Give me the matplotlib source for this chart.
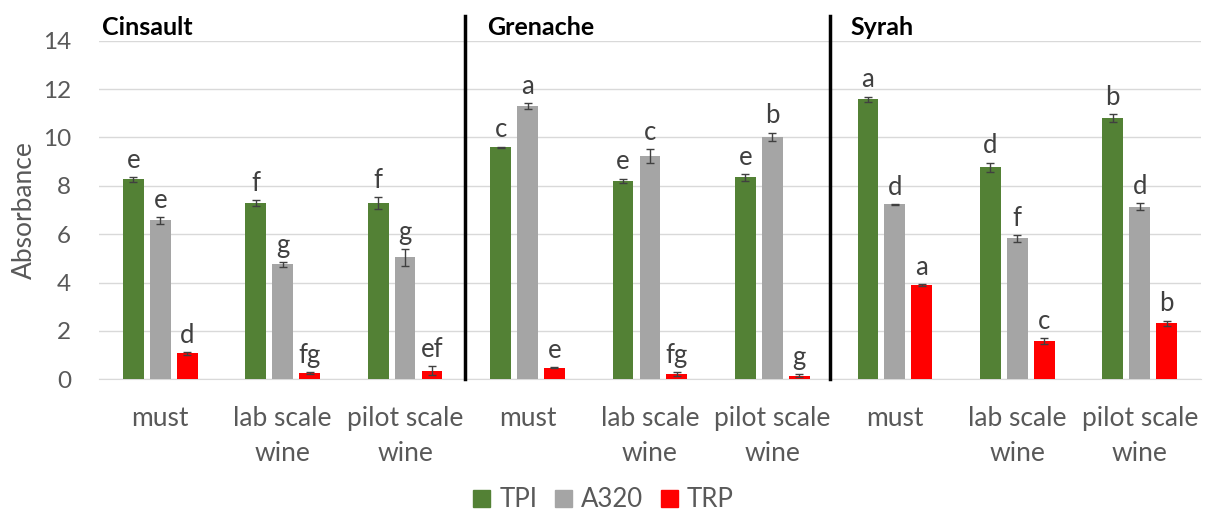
import numpy as np
import matplotlib.pyplot as plt
from matplotlib.patches import Patch

# samples, three per cultivar
cultivars = ["Cinsault", "Grenache", "Syrah"]
samples = ["must", "lab scale\nwine", "pilot scale\nwine"] * 3

tpi = [8.27, 7.30, 7.30, 9.59, 8.20, 8.35, 11.57, 8.76, 10.80]
tpi_err = [0.10, 0.12, 0.25, 0.03, 0.10, 0.15, 0.12, 0.20, 0.15]
a320 = [6.57, 4.75, 5.04, 11.30, 9.23, 10.03, 7.23, 5.83, 7.14]
a320_err = [0.15, 0.10, 0.35, 0.12, 0.30, 0.17, 0.03, 0.15, 0.14]
trp = [1.07, 0.27, 0.36, 0.47, 0.22, 0.15, 3.89, 1.60, 2.31]
trp_err = [0.05, 0.04, 0.18, 0.02, 0.09, 0.05, 0.04, 0.12, 0.12]

tpi_sig = ["e", "f", "f", "c", "e", "e", "a", "d", "b"]
a320_sig = ["e", "g", "g", "a", "c", "b", "d", "f", "d"]
trp_sig = ["d", "fg", "ef", "e", "fg", "g", "a", "c", "b"]

plt.rcParams["font.family"] = ["Lato", "DejaVu Sans"]
grey_txt = "#595959"

fig = plt.figure(figsize=(12.07, 5.11), dpi=100)
ax = fig.add_axes([0.082, 0.2577, 0.913, 0.6627])

x = np.arange(len(samples))
w = 0.17
step = 0.22
series = [
    (tpi, tpi_err, tpi_sig, "#538135", "TPI", -step),
    (a320, a320_err, a320_sig, "#A5A5A5", "A320", 0.0),
    (trp, trp_err, trp_sig, "#FF0000", "TRP", step),
]
for vals, errs, sig, col, name, off in series:
    ax.bar(x + off, vals, w, color=col, zorder=3, label=name)
    ax.errorbar(x + off, vals, yerr=errs, fmt="none", ecolor="#404040",
                elinewidth=1, capsize=3, capthick=1, zorder=4)
    for xi, v, e, s in zip(x + off, vals, errs, sig):
        ax.annotate(s, (xi, v + e), xytext=(0, 3), textcoords="offset points",
                    ha="center", va="bottom", fontsize=18.5, color="#404040")

ax.set_xlim(-0.5, 8.5)
ax.set_ylim(0, 14)
ax.set_yticks(range(0, 15, 2))
ax.yaxis.grid(True, color="#D9D9D9", linewidth=1, zorder=0)
ax.set_axisbelow(True)
for sp in ["top", "right", "left"]:
    ax.spines[sp].set_visible(False)
ax.spines["bottom"].set_color("#D9D9D9")
ax.tick_params(axis="y", length=0, labelsize=17.5, colors=grey_txt, pad=20)
ax.tick_params(axis="x", length=0, labelsize=19, colors=grey_txt, pad=19)
ax.set_xticks(x)
ax.set_xticklabels(samples, linespacing=1.5)
ax.set_ylabel("Absorbance", fontsize=19, color=grey_txt, labelpad=4)

# cultivar separators and headings
for xs in [2.49, 5.47]:
    ax.plot([xs, xs], [0, 15.0], color="black", linewidth=2.5,
            clip_on=False, zorder=5)
for xt, name in zip([-0.475, 2.67, 5.64], cultivars):
    ax.text(xt, 14.55, name, fontsize=18, fontweight="bold",
            ha="left", va="center", color="black")

handles = [Patch(color=c, label=n) for _, _, _, c, n, _ in series]
fig.legend(handles=handles, loc="center", bbox_to_anchor=(0.5, 0.022),
           ncol=3, frameon=False, fontsize=18.5, handlelength=0.65,
           handleheight=0.65, handletextpad=0.35, columnspacing=0.7,
           labelcolor=grey_txt)

fig.savefig("out.png", dpi=100)
